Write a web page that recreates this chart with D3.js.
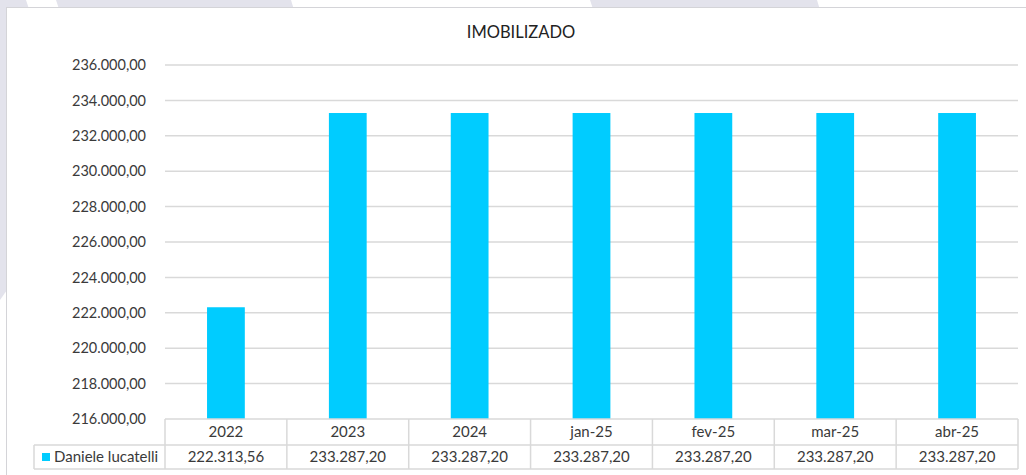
<!DOCTYPE html>
<html>
<head>
<meta charset="utf-8">
<script src="https://cdn.jsdelivr.net/npm/d3@7"></script>
<style>
  html, body { margin: 0; padding: 0; background: #ffffff; }
  svg { display: block; font-family: Lato, "Open Sans", sans-serif; }
</style>
</head>
<body>
<svg id="chart" width="1026" height="475"></svg>
<script>
const categories = ["2022", "2023", "2024", "jan-25", "fev-25", "mar-25", "abr-25"];
const seriesName = "Daniele lucatelli";
const values = [222313.56, 233287.20, 233287.20, 233287.20, 233287.20, 233287.20, 233287.20];
const yTicks = [216000, 218000, 220000, 222000, 224000, 226000, 228000, 230000, 232000, 234000, 236000];
const title = "IMOBILIZADO";

const svg = d3.select("#chart");
const W = 1026, H = 475;
const textColor = "#3a3a3a";
const gridColor = "#d9d9d9";
const barColor = "#00ccff";

const locale = d3.formatLocale({ decimal: ",", thousands: ".", grouping: [3], currency: ["R$", ""] });
const fmt = locale.format(",.2f");

// background watermark
svg.append("rect").attr("width", W).attr("height", H).attr("fill", "#ffffff");
const bgShapes = [
  [[0,0],[26,0],[36,30],[0,30]],
  [[56,0],[291,0],[300,30],[66,30]],
  [[590,0],[817,0],[826,30],[600,30]],
  [[0,0],[7,0],[7,290],[0,300]]
];
svg.selectAll("polygon.bg").data(bgShapes).join("polygon")
  .attr("class", "bg")
  .attr("points", d => d.map(p => p.join(",")).join(" "))
  .attr("fill", "#e3e3ec");

// chart box
svg.append("rect").attr("x", 6.5).attr("y", 7.5).attr("width", W).attr("height", H)
  .attr("fill", "#ffffff").attr("stroke", "#d4d4d8").attr("stroke-width", 1);

const plotLeft = 165, plotRight = 1018, plotTop = 65, plotBottom = 419;
const x = d3.scaleBand().domain(categories).range([plotLeft, plotRight]).paddingInner(0).paddingOuter(0);
const y = d3.scaleLinear().domain([216000, 236000]).range([plotBottom, plotTop]);

// title
svg.append("text").attr("x", 521).attr("y", 38)
  .attr("text-anchor", "middle").attr("font-size", 16.5).attr("fill", "#222")
  .text(title);

// y axis labels
const yAxis = d3.axisLeft(y).tickValues(yTicks).tickFormat(fmt).tickSize(0).tickPadding(19);
const gAxis = svg.append("g").attr("transform", `translate(${plotLeft},0)`).call(yAxis);
gAxis.select(".domain").remove();
gAxis.selectAll("text").attr("font-size", 14.5).attr("fill", textColor).attr("font-family", "Lato, sans-serif");

// gridlines
svg.append("g").selectAll("line").data(yTicks.filter(t => t !== 216000)).join("line")
  .attr("x1", plotLeft).attr("x2", plotRight)
  .attr("y1", d => y(d)).attr("y2", d => y(d))
  .attr("stroke", gridColor).attr("stroke-width", 1.5);

// bars
const barW = x.bandwidth() * 0.31;
svg.append("g").selectAll("rect").data(values).join("rect")
  .attr("x", (d, i) => x(categories[i]) + (x.bandwidth() - barW) / 2)
  .attr("width", barW)
  .attr("y", d => y(d))
  .attr("height", d => y(216000) - y(d))
  .attr("fill", barColor);

// data table
const row1Top = plotBottom, row1Bot = 445, row2Bot = 469;
const legendLeft = 34;
const tbl = svg.append("g").attr("stroke", gridColor).attr("stroke-width", 1.5).attr("fill", "none");
tbl.append("line").attr("x1", plotLeft).attr("x2", plotRight).attr("y1", row1Top).attr("y2", row1Top);
tbl.append("line").attr("x1", legendLeft).attr("x2", plotRight).attr("y1", row1Bot).attr("y2", row1Bot);
tbl.append("line").attr("x1", legendLeft).attr("x2", plotRight).attr("y1", row2Bot).attr("y2", row2Bot);
tbl.append("line").attr("x1", legendLeft).attr("x2", legendLeft).attr("y1", row1Bot).attr("y2", row2Bot);
tbl.selectAll("line.col").data(categories.map(c => x(c)).concat([plotRight])).join("line")
  .attr("class", "col")
  .attr("x1", d => d).attr("x2", d => d).attr("y1", row1Top).attr("y2", row2Bot);

svg.append("g").selectAll("text").data(categories).join("text")
  .attr("x", d => x(d) + x.bandwidth() / 2).attr("y", (row1Top + row1Bot) / 2 + 5)
  .attr("text-anchor", "middle").attr("font-size", 15).attr("fill", textColor)
  .text(d => d);

svg.append("g").selectAll("text").data(values).join("text")
  .attr("x", (d, i) => x(categories[i]) + x.bandwidth() / 2).attr("y", (row1Bot + row2Bot) / 2 + 5)
  .attr("text-anchor", "middle").attr("font-size", 15).attr("fill", textColor)
  .text(d => fmt(d));

// legend key
svg.append("rect").attr("x", 42).attr("y", 453).attr("width", 8).attr("height", 8).attr("fill", barColor);
svg.append("text").attr("x", 54).attr("y", (row1Bot + row2Bot) / 2 + 5)
  .attr("font-size", 15).attr("fill", textColor).text(seriesName);
</script>
</body>
</html>
